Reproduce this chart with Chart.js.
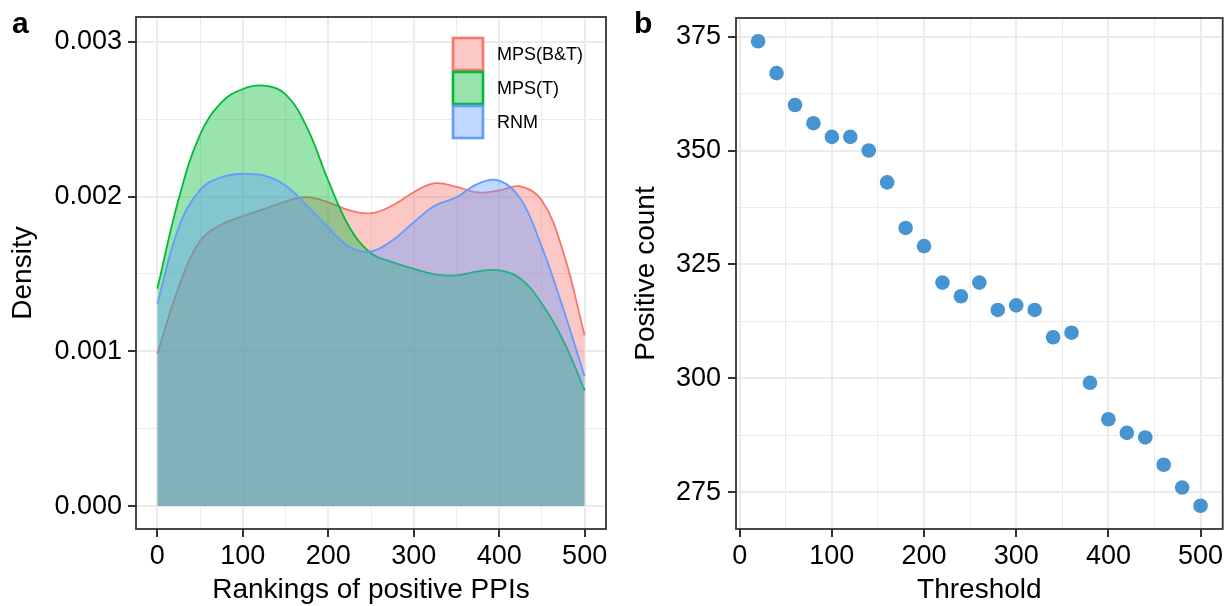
<!DOCTYPE html>
<html>
<head>
<meta charset="utf-8">
<script src="https://cdn.jsdelivr.net/npm/chart.js@4.4.1/dist/chart.umd.min.js"></script>
<style>
    body { margin: 0; background: #fff; width: 1230px; height: 606px; overflow: hidden; position: relative; font-family: "Liberation Sans", Arial, sans-serif; }
    .panel { position: absolute; top: 0; width: 615px; height: 606px; }
    #panelA { left: 0; }
    #panelB { left: 615px; }
    .tag { position: absolute; font-weight: bold; font-size: 30px; line-height: 1; color: #000; }
</style>
</head>
<body>
<div class="panel" id="panelA"><canvas id="densityChart"></canvas></div>
<div class="panel" id="panelB"><canvas id="thresholdChart"></canvas></div>
<div class="tag" style="left:12px;top:8px">a</div>
<div class="tag" style="left:634px;top:8px">b</div>
<script>
// panel a: density of rankings
const rankings = [0, 25, 50, 75, 100, 125, 150, 175, 200, 225, 250, 275, 300, 325, 350, 375, 400, 425, 450, 475, 500];
const densityBT = [0.000985, 0.001415, 0.001712, 0.001819, 0.001873, 0.00192, 0.001968, 0.001996, 0.001963, 0.00191, 0.001892,
    0.001942, 0.002028, 0.002086, 0.002063, 0.002026, 0.002039, 0.002065, 0.001974, 0.001641, 0.001103];
const densityT = [0.001405, 0.001985, 0.0024, 0.002608, 0.002695, 0.002716, 0.00266, 0.002447, 0.002103, 0.0018, 0.001634,
    0.001576, 0.001533, 0.001497, 0.00149, 0.001516, 0.001523, 0.001469, 0.001308, 0.00107, 0.000748];
const densityRNM = [0.001308, 0.0018, 0.002043, 0.002125, 0.002146, 0.002135, 0.002071, 0.001942, 0.0018, 0.001673, 0.001645,
    0.001716, 0.001834, 0.001942, 0.001995, 0.002082, 0.002103, 0.001985, 0.001673, 0.001275, 0.000839];
const methodNames = ['MPS(B&T)', 'MPS(T)', 'RNM'];
const rankMajor = [0, 100, 200, 300, 400, 500];
const rankMinor = [50, 150, 250, 350, 450];
const densityMajor = [0, 0.001, 0.002, 0.003];
const densityMinor = [0.0005, 0.0015, 0.0025];

// panel b: positive count by threshold
const thresholds = [20, 40, 60, 80, 100, 120, 140, 160, 180, 200, 220, 240, 260, 280, 300, 320, 340, 360, 380, 400, 420, 440, 460, 480, 500];
const positives = [374, 367, 360, 356, 353, 353, 350, 343, 333, 329, 321, 318, 321, 315, 316, 315, 309, 310, 299, 291, 288, 287, 281, 276, 272];
const threshMajor = [0, 100, 200, 300, 400, 500];
const threshMinor = [50, 150, 250, 350, 450];
const countMajor = [275, 300, 325, 350, 375];
const countMinor = [287.5, 312.5, 337.5, 362.5];

Chart.defaults.font.family = "'Liberation Sans', Arial, sans-serif";
Chart.defaults.color = '#000';

const isMajor = (majors, v) => majors.some(m => Math.abs(m - v) < 1e-9);

// ggplot-like grid: thick major lines with ticks, thin minor lines without
function gridFor(majors) {
    return {
        color: '#EBEBEB',
        lineWidth: c => isMajor(majors, c.tick.value) ? 2 : 1,
        tickColor: c => isMajor(majors, c.tick.value) ? '#333333' : 'rgba(0,0,0,0)',
        tickLength: 8,
        tickWidth: 2,
        drawTicks: true
    };
}

function axis(min, max, majors, minors, fmt, title, titlePad, tickPad, size) {
    return {
        type: 'linear',
        min: min,
        max: max,
        afterBuildTicks: a => { a.ticks = majors.concat(minors).sort((p, q) => p - q).map(v => ({ value: v })); },
        afterFit: s => {
            if (s.isHorizontal()) s.height = size; else s.width = size;
            // keep the plot area where layout.padding puts it
            s.paddingTop = 0; s.paddingBottom = 0; s.paddingLeft = 0; s.paddingRight = 0;
        },
        grid: gridFor(majors),
        border: { display: false },
        ticks: {
            autoSkip: false,
            maxRotation: 0,
            padding: tickPad,
            font: { size: 27, lineHeight: 1.2 },
            callback: v => isMajor(majors, v) ? fmt(v) : ''
        },
        title: { display: true, text: title, font: { size: 28, lineHeight: 1.12 }, padding: titlePad }
    };
}

// dark panel border drawn on top like theme_bw
const panelBorder = {
    id: 'panelBorder',
    afterDatasetsDraw(chart) {
        const { ctx, chartArea } = chart;
        ctx.save();
        ctx.strokeStyle = '#333333';
        ctx.lineWidth = 1.8;
        ctx.strokeRect(chartArea.left, chartArea.top, chartArea.right - chartArea.left, chartArea.bottom - chartArea.top);
        ctx.restore();
    }
};

// legend keys inside the panel (transparent background)
const keyLegend = {
    id: 'keyLegend',
    afterDatasetsDraw(chart) {
        const { ctx, chartArea } = chart;
        const x = chartArea.right - 154, y0 = chartArea.top + 20;
        ctx.save();
        chart.data.datasets.forEach((ds, i) => {
            const y = y0 + i * 34;
            ctx.fillStyle = '#fff';
            ctx.fillRect(x, y, 32, 34);
            ctx.fillStyle = ds.backgroundColor;
            ctx.fillRect(x, y, 32, 34);
            ctx.strokeStyle = ds.borderColor;
            ctx.lineWidth = 2.6;
            ctx.strokeRect(x + 1, y + 1, 30, 32);
            ctx.fillStyle = '#000';
            ctx.font = "18px 'Liberation Sans', Arial, sans-serif";
            ctx.textBaseline = 'middle';
            ctx.fillText(ds.label, x + 45, y + 18);
        });
        ctx.restore();
    }
};

const lineColors = ['#F8766D', '#00BA38', '#619CFF'];
const fillColors = ['rgba(248,118,109,0.4)', 'rgba(0,186,56,0.4)', 'rgba(97,156,255,0.4)'];
const densitySeries = [densityBT, densityT, densityRNM];

var densityChart = new Chart(document.getElementById('densityChart').getContext('2d'), {
    type: 'line',
    data: {
        datasets: densitySeries.map((vals, i) => ({
            label: methodNames[i],
            data: vals.map((d, j) => ({ x: rankings[j], y: d })),
            borderColor: lineColors[i],
            backgroundColor: fillColors[i],
            borderWidth: 1.8,
            pointRadius: 0,
            fill: 'origin',
            tension: 0.4,
            order: 3 - i   // red drawn first, blue last (on top)
        }))
    },
    options: {
        responsive: true,
        maintainAspectRatio: false,
        animation: false,
        layout: { padding: { left: 0, top: 17, right: 9, bottom: 0 } },
        plugins: { legend: { display: false }, tooltip: { enabled: false } },
        scales: {
            x: axis(-25, 525, rankMajor, rankMinor, v => String(v), 'Rankings of positive PPIs', { top: 0, bottom: 0 }, 3, 77),
            y: axis(-0.000148, 0.00316, densityMajor, densityMinor, v => v.toFixed(3), 'Density', { top: 8, bottom: 0 }, 6, 136)
        }
    },
    plugins: [panelBorder, keyLegend]
});

var thresholdChart = new Chart(document.getElementById('thresholdChart').getContext('2d'), {
    type: 'scatter',
    data: {
        datasets: [{
            label: 'Positive count',
            data: thresholds.map((t, i) => ({ x: t, y: positives[i] })),
            backgroundColor: '#4695D2',
            borderWidth: 0,
            pointRadius: 7.3
        }]
    },
    options: {
        responsive: true,
        maintainAspectRatio: false,
        animation: false,
        layout: { padding: { left: 0, top: 18, right: 2, bottom: 0 } },
        plugins: { legend: { display: false }, tooltip: { enabled: false } },
        scales: {
            x: axis(-4, 524, threshMajor, threshMinor, v => String(v), 'Threshold', { top: 0, bottom: 0 }, 3, 77),
            y: axis(266.9, 379.1, countMajor, countMinor, v => String(v), 'Positive count', { top: 15.5, bottom: 0 }, 7, 121)
        }
    },
    plugins: [panelBorder]
});
</script>
</body>
</html>
